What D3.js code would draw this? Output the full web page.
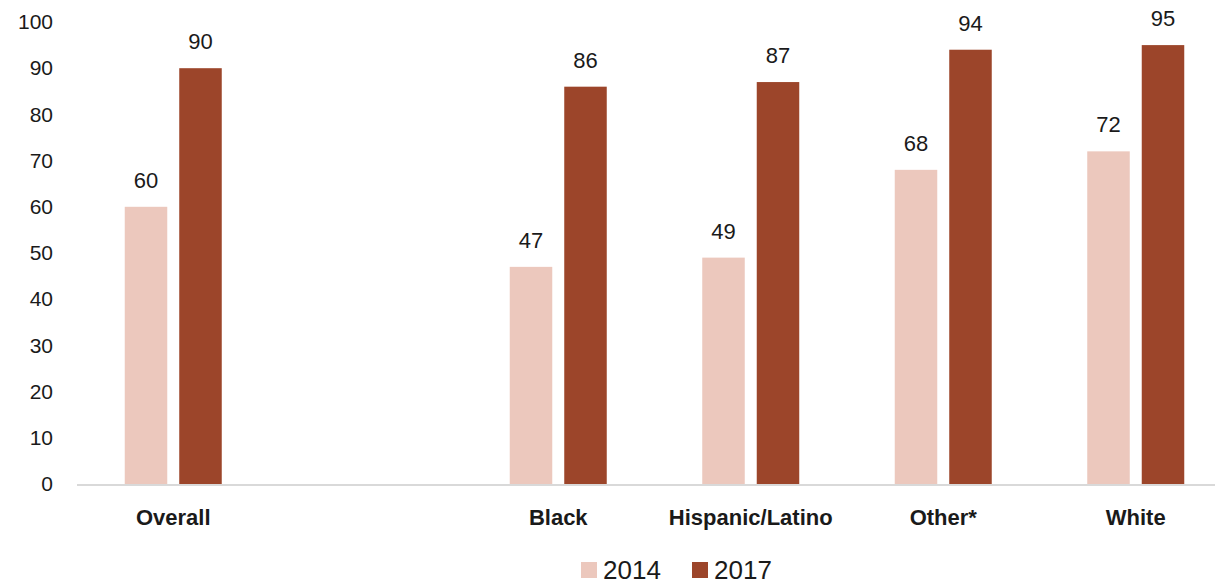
<!DOCTYPE html>
<html lang="en">
<head>
<meta charset="utf-8">
<title>2014 vs 2017</title>
<script src="https://cdn.jsdelivr.net/npm/d3@7"></script>
<style>
  body { margin: 0; background: #fff; }
  text { font-family: "Liberation Sans", Arial, sans-serif; fill: #1a1a1a; }
</style>
</head>
<body>
<script>
// categories (the empty one is the blank slot after "Overall")
var categories = ["Overall", "", "Black", "Hispanic/Latino", "Other*", "White"];
var series = ["2014", "2017"];
var values2014 = [60, null, 47, 49, 68, 72];
var values2017 = [90, null, 86, 87, 94, 95];
var yTicks = [0, 10, 20, 30, 40, 50, 60, 70, 80, 90, 100];
var colors = ["#ecc8bd", "#9c452a"];

var width = 1215, height = 584;

var svg = d3.select("body").append("svg")
    .attr("width", width)
    .attr("height", height);

// scales
var x0 = d3.scaleBand()
    .domain(d3.range(categories.length))
    .range([77, 1232]);

var x1 = d3.scaleBand()
    .domain(series)
    .range([x0.bandwidth() / 2 - 48.5, x0.bandwidth() / 2 + 48.5])
    .paddingInner(0.22);

var y = d3.scaleLinear()
    .domain([0, 100])
    .range([484, 22]);

// y axis labels (no line)
var yAxis = svg.append("g")
    .attr("transform", "translate(53,0)")
    .call(d3.axisLeft(y).tickValues(yTicks).tickSize(0).tickPadding(0));
yAxis.select(".domain").remove();
yAxis.selectAll("text")
    .attr("font-size", 21)
    .attr("font-family", null)
    .style("fill", "#1a1a1a");

// bars
var data = categories.map(function(c, i) {
    return { i: i, vals: [values2014[i], values2017[i]] };
}).filter(function(d) { return d.vals[0] != null; });

var groups = svg.append("g").selectAll("g")
    .data(data)
    .enter().append("g")
    .attr("transform", function(d) { return "translate(" + x0(d.i) + ",0)"; });

groups.selectAll("rect")
    .data(function(d) { return d.vals.map(function(v, k) { return { s: series[k], v: v, k: k }; }); })
    .enter().append("rect")
    .attr("x", function(d) { return x1(d.s); })
    .attr("width", x1.bandwidth())
    .attr("y", function(d) { return y(d.v); })
    .attr("height", function(d) { return y(0) - y(d.v); })
    .attr("fill", function(d) { return colors[d.k]; });

groups.selectAll("text.val")
    .data(function(d) { return d.vals.map(function(v, k) { return { s: series[k], v: v }; }); })
    .enter().append("text")
    .attr("class", "val")
    .attr("x", function(d) { return x1(d.s) + x1.bandwidth() / 2; })
    .attr("y", function(d) { return y(d.v) - 19; })
    .attr("text-anchor", "middle")
    .attr("font-size", 22)
    .text(function(d) { return d.v; });

// x axis line
svg.append("line")
    .attr("x1", 77).attr("x2", width)
    .attr("y1", y(0) + 1).attr("y2", y(0) + 1)
    .attr("stroke", "#d9d9d9")
    .attr("stroke-width", 2);

// category labels
svg.append("g").selectAll("text")
    .data(data)
    .enter().append("text")
    .attr("x", function(d) { return x0(d.i) + x0.bandwidth() / 2; })
    .attr("y", 525)
    .attr("text-anchor", "middle")
    .attr("font-size", 22)
    .attr("font-weight", "bold")
    .text(function(d) { return categories[d.i]; });

// legend
var legend = svg.append("g");
var legendX = [581, 692];
series.forEach(function(s, k) {
    legend.append("rect")
        .attr("x", legendX[k]).attr("y", 562)
        .attr("width", 16).attr("height", 16)
        .attr("fill", colors[k]);
    legend.append("text")
        .attr("x", legendX[k] + 22).attr("y", 579)
        .attr("font-size", 26)
        .text(s);
});
</script>
</body>
</html>
